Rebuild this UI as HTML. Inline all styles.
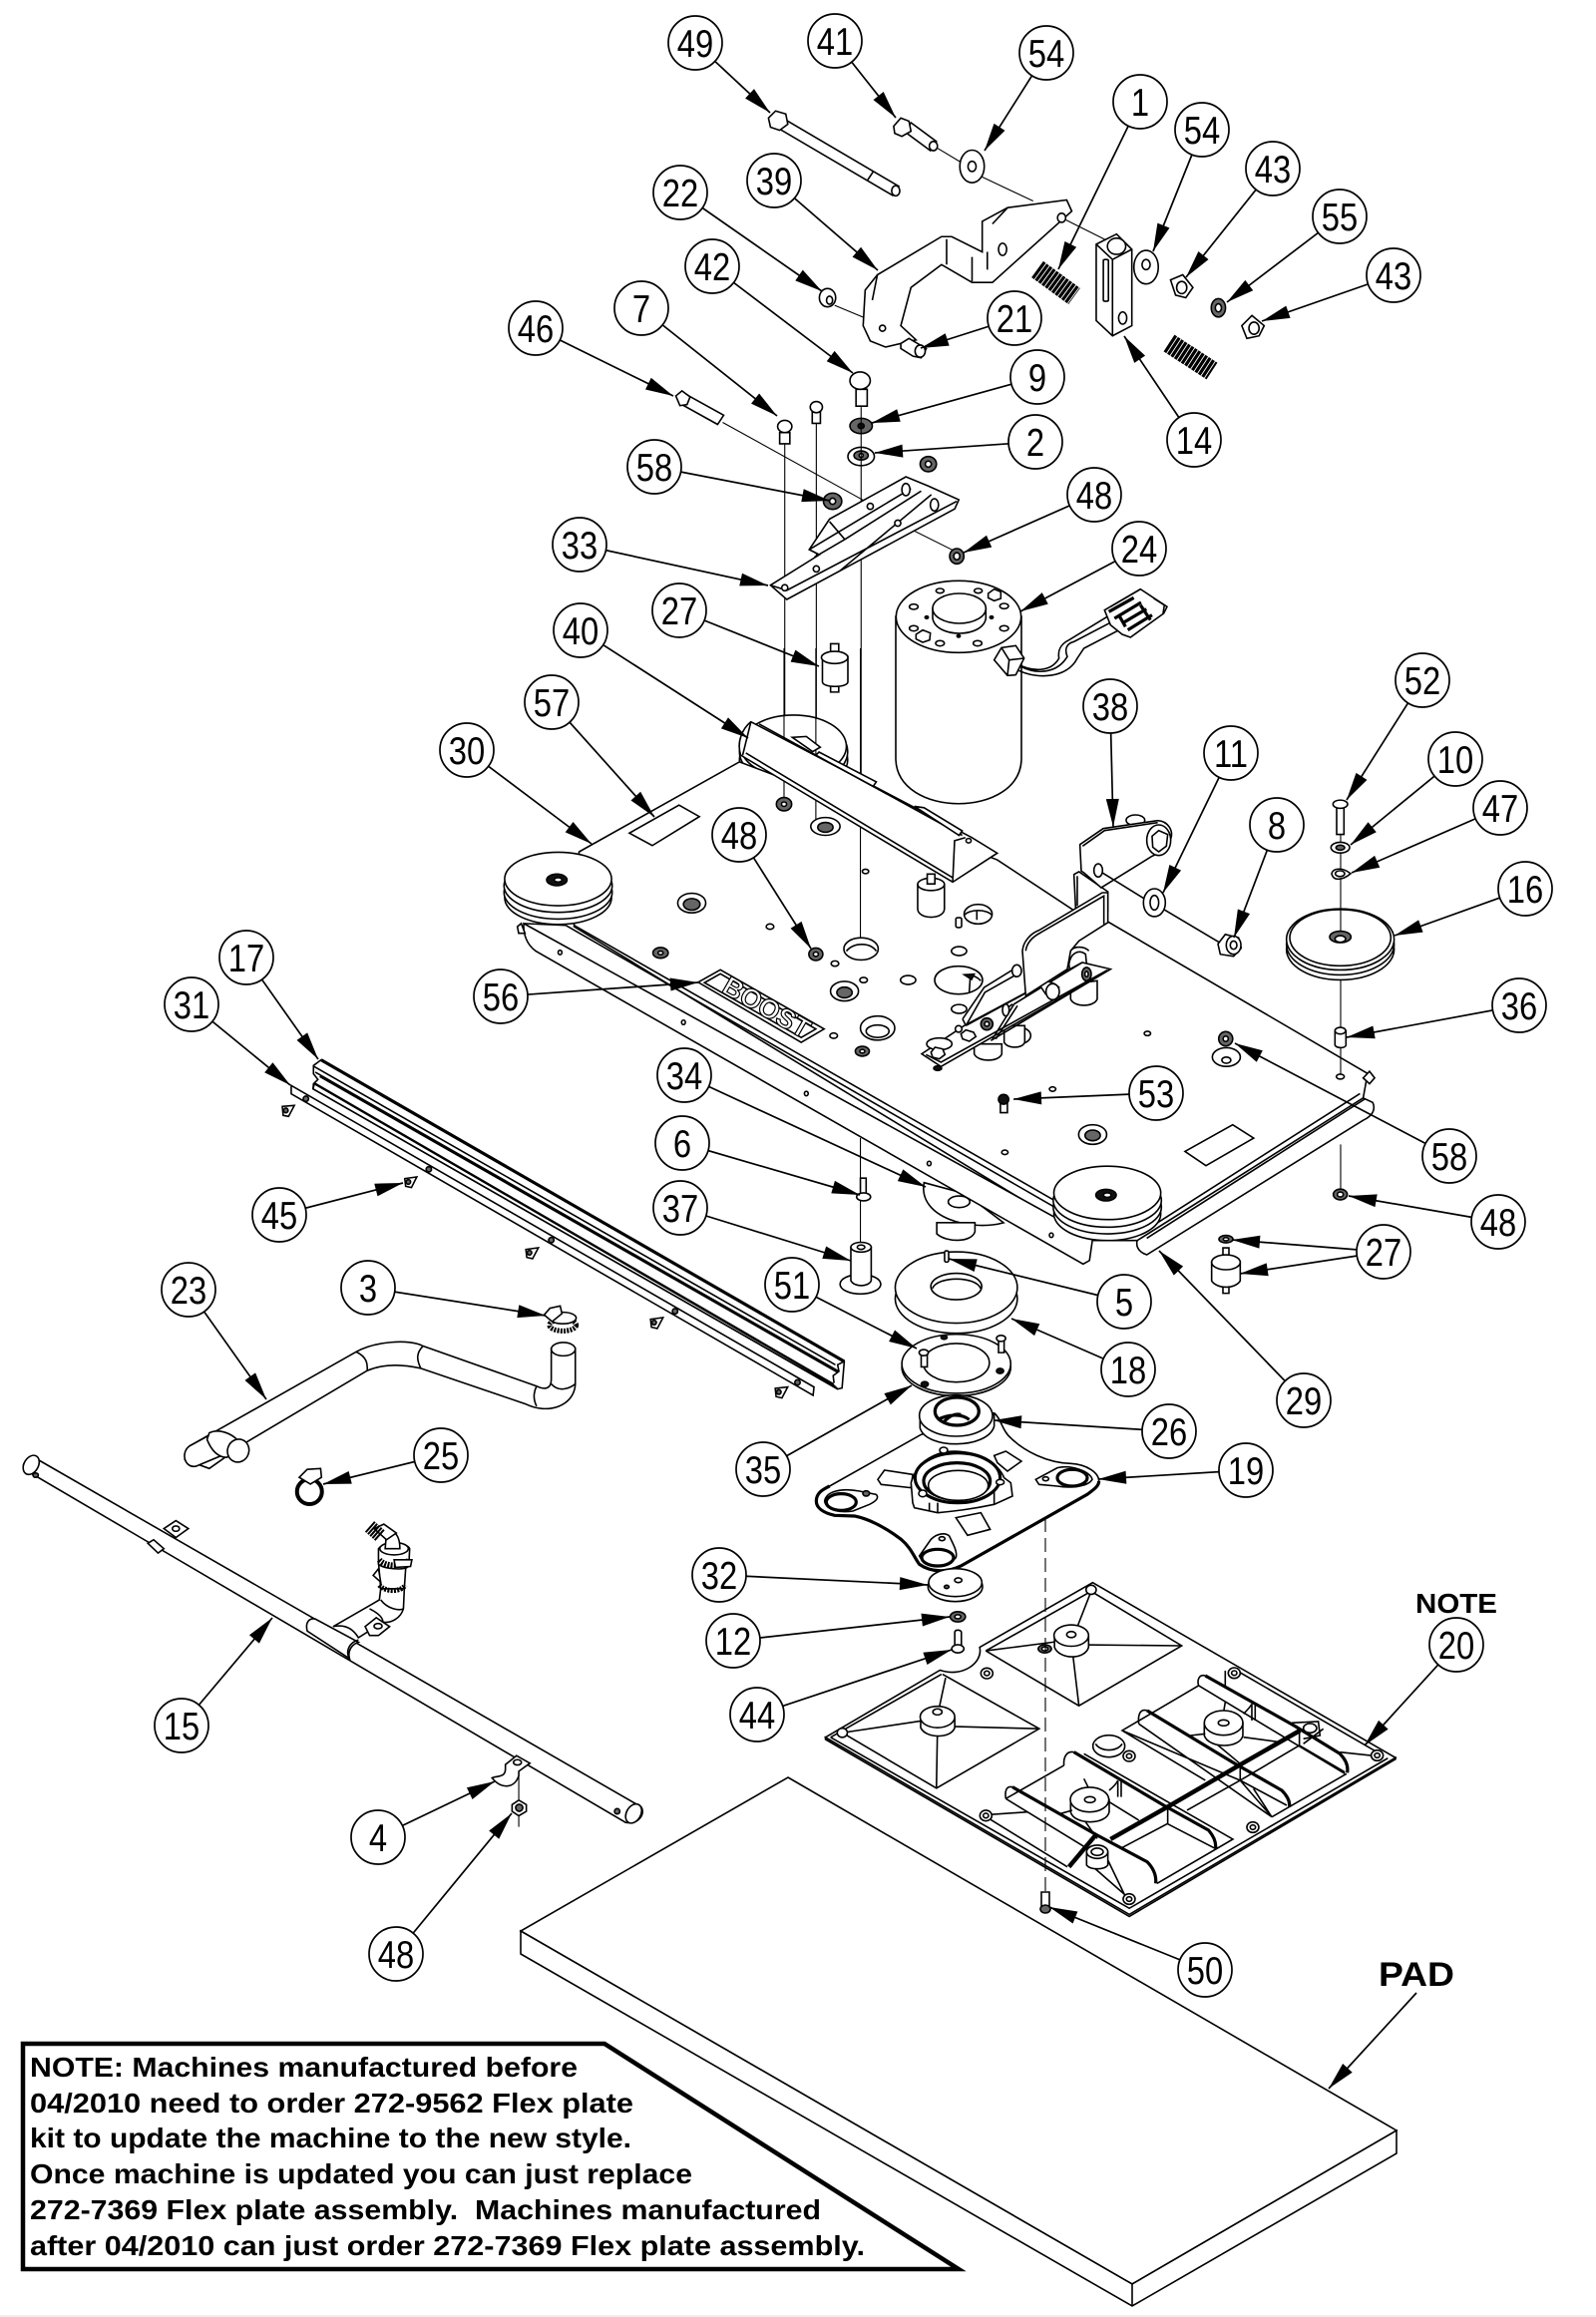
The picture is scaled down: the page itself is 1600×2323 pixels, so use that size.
<!DOCTYPE html>
<html><head><meta charset="utf-8"><title>Exploded parts diagram</title>
<style>
html,body{margin:0;padding:0;background:#fff}
svg{display:block}
svg *{vector-effect:non-scaling-stroke}
.p path,.p ellipse,.p line,.p polygon,.p rect{fill:#fff;stroke:#000;stroke-width:1.6}
.p .n{fill:none}
.p .d{fill:#111}
.p .g{fill:#666}
.p .t{stroke-width:3.2}
.p .h{stroke-width:4.5}
.p .f{stroke-width:1.1;fill:none}
.L line{stroke:#000;stroke-width:1.7;marker-end:url(#a)}
.B circle{fill:#fff;stroke:#000;stroke-width:1.7}
.B text{font-family:"Liberation Sans",sans-serif;font-size:39px;text-anchor:middle;fill:#000;transform:scaleX(.84)}
.N text{font-family:"Liberation Sans",sans-serif;font-weight:bold;font-size:28px;fill:#000}
</style></head><body>
<svg xmlns="http://www.w3.org/2000/svg" width="1600" height="2323" viewBox="0 0 1600 2323">
<defs><marker id="a" markerUnits="userSpaceOnUse" orient="auto" markerWidth="30" markerHeight="14" refX="28" refY="6.5" overflow="visible"><path d="M0 0L28 6.5L0 13z" fill="#000" stroke="none"/></marker></defs>
<rect width="1600" height="2323" fill="#fff"/>
<rect y="2321" width="1600" height="2" fill="#eee"/>

<!-- TOP HARDWARE -->
<g class="p" transform="scale(1.0204 .5102)">
<path d="M768 231L883 366L877 384L762 249Z"/><path class="n" d="M858 337L852 355"/><ellipse cx="880" cy="375" rx="4" ry="10"/>
<path d="M755 232L762 218L772 224L774 244L766 256L757 250Z"/>
<path d="M895 241L920 278L914 296L889 259Z"/><ellipse cx="917" cy="287" rx="4" ry="9"/>
<path d="M878 248L885 232L893 238L895 258L886 268L879 262Z"/>
<path class="n f" d="M920 290L945 320M962 345L1015 395M1045 430L1090 475"/>
<ellipse cx="955" cy="327" rx="12" ry="32"/><ellipse cx="955" cy="327" rx="4" ry="10"/>
<path class="n f" d="M820 600L850 625"/>
<path d="M850 570L862 540L925 465L935 465L965 495L965 435L990 408L1048 393L1053 415L975 555L955 555L925 520L895 565L885 640L900 668L870 682L855 670L848 640Z"/>
<path class="n" d="M930 470L930 520M955 505L955 553M970 495L970 530M990 408L975 440M862 540L857 590"/>
<ellipse cx="985" cy="490" rx="4" ry="12"/><ellipse cx="1043" cy="428" rx="4" ry="9"/><ellipse cx="867" cy="645" rx="3" ry="6"/>
<path d="M885 675L893 665L910 685L905 703L897 700L885 685Z"/><ellipse cx="904" cy="690" rx="5" ry="12"/>
<ellipse cx="813" cy="585" rx="8" ry="18"/><ellipse cx="815" cy="590" rx="3" ry="8"/>
<path d="M1077 480L1097 460L1112 490L1112 640L1093 660L1077 630Z"/>
<path class="n" d="M1077 480L1093 510L1093 660M1093 510L1112 490"/>
<ellipse cx="1097" cy="484" rx="9" ry="16"/>
<rect x="1084" y="510" width="5" height="82" rx="2"/>
<ellipse cx="1103" cy="625" rx="4" ry="12"/>
<ellipse cx="1126" cy="525" rx="12" ry="33"/><ellipse cx="1126" cy="520" rx="4" ry="10"/>
<path d="M1150 550L1162 540L1172 565L1165 585L1155 580Z"/><ellipse cx="1161" cy="565" rx="5" ry="12"/>
<ellipse class="g" cx="1197" cy="605" rx="7" ry="18"/><ellipse cx="1197" cy="605" rx="3" ry="8"/>
<path d="M1220 640L1230 620L1242 640L1237 660L1225 665Z"/><ellipse cx="1232" cy="645" rx="5" ry="12"/>
<path d="M841 765L841 798L852 798L852 765Z"/><ellipse cx="845" cy="748" rx="10" ry="17"/>
<ellipse class="g" cx="846" cy="837" rx="11" ry="15"/><ellipse class="d" cx="846" cy="837" rx="3" ry="5"/>
<ellipse cx="846" cy="897" rx="13" ry="18"/><ellipse class="g" cx="846" cy="895" rx="7" ry="9"/><ellipse cx="846" cy="895" rx="2" ry="4"/>
<ellipse class="g" cx="912" cy="912" rx="8" ry="15"/><ellipse cx="912" cy="912" rx="3" ry="6"/>
<path class="n f" d="M771 870L771 1568M802 832L802 1568M846 800L846 1568"/>
<path d="M766 850L766 872L776 872L776 850Z"/><ellipse cx="771" cy="838" rx="7" ry="12"/>
<path d="M798 810L798 832L806 832L806 810Z"/><ellipse cx="802" cy="800" rx="6" ry="11"/>
<path d="M675 776L711 816L705 834L669 794Z"/><path d="M664 778L670 768L678 780L675 795L668 797Z"/>
<path class="n f" d="M710 830L850 985M880 1025L940 1085"/>
<path d="M757 1150L805 1090L795 1080L815 1020L890 937L912 955L942 982L938 1000L850 1095L773 1178Z"/>
<path class="n" d="M815 1025L830 1060L800 1095M795 1080L895 960M825 1122L915 972M830 1060L905 965M757 1150L773 1160L940 985"/>
<ellipse cx="890" cy="962" rx="4" ry="12"/><ellipse cx="918" cy="992" rx="4" ry="12"/><ellipse cx="855" cy="995" rx="3" ry="6"/><ellipse cx="882" cy="1028" rx="3" ry="6"/><ellipse cx="802" cy="1118" rx="3" ry="6"/><ellipse cx="771" cy="1155" rx="3" ry="6"/>
<ellipse class="g" cx="818" cy="985" rx="9" ry="16"/><ellipse cx="818" cy="985" rx="3" ry="6"/>
<ellipse class="g" cx="940" cy="1093" rx="7" ry="15"/><ellipse cx="940" cy="1093" rx="3" ry="7"/>
<rect x="816" y="1265" width="8" height="20"/><rect x="816" y="1340" width="8" height="20"/>
<path d="M808 1290L833 1290L833 1340C833 1352 808 1352 808 1340Z"/><ellipse cx="820" cy="1292" rx="13" ry="12"/>
</g>

<!-- MOTOR -->
<path d="M898 618L898 760C898 821 1024 821 1024 760L1024 618Z" fill="#fff" stroke="#000" stroke-width="1.6"/>
<g class="p" transform="translate(880 560) scale(.3333)">
<ellipse cx="243" cy="175" rx="188" ry="108"/>
<path d="M165 150L165 180C175 240 315 240 325 180L325 150Z"/><ellipse cx="245" cy="150" rx="80" ry="45"/>
<ellipse cx="187" cy="97" rx="12" ry="7"/><ellipse cx="302" cy="97" rx="12" ry="7"/><ellipse cx="108" cy="145" rx="13" ry="8"/><ellipse cx="380" cy="143" rx="13" ry="8"/><ellipse cx="108" cy="210" rx="13" ry="8"/><ellipse cx="380" cy="210" rx="13" ry="8"/><ellipse cx="187" cy="255" rx="13" ry="8"/><ellipse cx="300" cy="255" rx="13" ry="8"/>
<ellipse class="d" cx="147" cy="177" rx="5" ry="4"/><ellipse class="d" cx="342" cy="177" rx="5" ry="4"/><ellipse class="d" cx="243" cy="233" rx="5" ry="4"/>
<path d="M332 105L350 92L370 100L370 120L350 127L332 118Z"/><path d="M115 228L135 215L158 224L156 245L135 252L115 242Z"/>
<path class="n" d="M415 315C460 340 520 345 545 300C540 270 555 255 575 245L690 175M420 335C480 365 570 360 600 300L620 270L745 205M430 325C480 350 540 345 570 295C560 270 570 255 590 250L705 190"/>
<path d="M350 305L372 268L415 262L440 300L415 350L390 352Z"/><path class="n" d="M372 268L395 305L390 352M395 305L440 300"/>
<path d="M682 155L790 92L870 145L860 165L760 237L735 228L700 200Z"/>
<path class="n" d="M830 120L862 140L858 165M790 92L700 145"/>
<path class="n t" d="M695 160L770 118M712 180L792 132M735 195L808 152M752 215L825 170M725 170L745 205M790 140L820 185"/>
</g>

<!-- DECK -->
<g class="p" transform="translate(400 650) scale(.638 .4464)">
<ellipse cx="620" cy="250" rx="85" ry="72"/><ellipse cx="620" cy="232" rx="85" ry="75"/><ellipse cx="620" cy="220" rx="83" ry="70"/>
<path d="M825 1200C815 1280 900 1310 950 1290L890 1225Z"/>
<path d="M845 1290L845 1315C860 1335 900 1335 905 1310L905 1290Z"/><ellipse cx="880" cy="1243" rx="17" ry="13"/>
<path d="M283 457L535 255L940 475L1062 590L1115 615L1522 955L1515 1010L1165 1330L1085 1330L275 625Z"/>
<path class="n f" d="M605 0L605 350M655 0L655 400M725 0L725 660M725 1100L725 1190M725 1240L725 1340"/>
<path d="M553 165L900 425L940 460L870 525L537 240C530 210 540 180 553 165Z"/>
<path class="n" d="M566 170L885 420M553 165L540 240M890 425L873 432L870 525M545 235L870 515"/>
<path d="M618 200L640 198L662 222L650 232Z"/><path d="M660 233L750 300L745 310L655 240Z"/><path d="M810 355L825 358L885 410L880 420Z"/>
<ellipse cx="895" cy="432" rx="4" ry="5"/>
<ellipse class="g" cx="605" cy="350" rx="12" ry="15"/><ellipse cx="605" cy="350" rx="4" ry="5"/>
<ellipse cx="670" cy="400" rx="23" ry="20"/><ellipse class="g" cx="670" cy="402" rx="12" ry="11"/>
<ellipse cx="733" cy="501" rx="5" ry="5"/>
<path d="M815 530L815 585C815 610 857 610 857 585L857 530Z"/><ellipse cx="836" cy="530" rx="21" ry="14"/><rect x="830" y="507" width="12" height="22"/>
<ellipse cx="460" cy="572" rx="22" ry="22"/><ellipse class="g" cx="460" cy="575" rx="13" ry="13"/>
<ellipse cx="583" cy="625" rx="6" ry="6"/>
<ellipse class="g" cx="411" cy="684" rx="12" ry="12"/><ellipse cx="411" cy="684" rx="4" ry="4"/>
<ellipse class="g" cx="655" cy="687" rx="11" ry="14"/><ellipse cx="655" cy="687" rx="4" ry="5"/>
<ellipse cx="685" cy="708" rx="6" ry="6"/>
<ellipse cx="726" cy="675" rx="27" ry="25"/><path class="n" d="M703 680C715 660 740 660 750 680"/>
<ellipse cx="730" cy="745" rx="6" ry="6"/><ellipse cx="800" cy="745" rx="12" ry="10"/>
<ellipse cx="700" cy="770" rx="22" ry="22"/><ellipse class="g" cx="700" cy="773" rx="12" ry="12"/>
<ellipse cx="880" cy="680" rx="12" ry="10"/><rect x="875" y="605" width="9" height="22" rx="3"/>
<ellipse cx="910" cy="597" rx="22" ry="22"/><path class="n" d="M888 600C895 585 925 585 932 600M908 590L908 610"/>
<ellipse cx="880" cy="810" rx="12" ry="10"/>
<ellipse cx="752" cy="853" rx="27" ry="27"/><ellipse class="n" cx="752" cy="860" rx="18" ry="14"/>
<ellipse cx="683" cy="870" rx="6" ry="6"/>
<ellipse class="g" cx="728" cy="905" rx="11" ry="11"/><ellipse cx="728" cy="905" rx="4" ry="4"/>
<ellipse cx="1176" cy="865" rx="5" ry="5"/><ellipse cx="1027" cy="990" rx="5" ry="5"/><ellipse cx="952" cy="1132" rx="5" ry="5"/>
<ellipse cx="1090" cy="1092" rx="22" ry="22"/><ellipse class="g" cx="1090" cy="1094" rx="12" ry="12"/>
<ellipse cx="1300" cy="918" rx="22" ry="21"/><ellipse cx="1300" cy="925" rx="7" ry="7"/>
<ellipse class="g" cx="1299" cy="877" rx="11" ry="16"/><ellipse cx="1299" cy="877" rx="4" ry="6"/>
<rect x="945" y="1010" width="11" height="33"/><ellipse class="d" cx="950" cy="1013" rx="8" ry="11"/>
<path d="M1235 1130L1310 1070L1343 1100L1268 1162Z"/><path d="M362 415L440 352L472 378L398 443Z"/>
<path d="M470 750L505 722L668 855L632 885Z"/><path class="n" d="M480 751L505 731L655 855L632 874Z"/>
<path d="M1515 1010L1530 1020C1535 1035 1530 1050 1515 1060L1175 1362C1160 1355 1158 1340 1160 1330Z"/>
<path class="n" d="M1510 1000L1170 1310M1518 1012L1175 1325"/>
<path d="M1525 950L1533 965L1525 978L1515 965Z"/>
<path d="M196 618L1090 1325L1085 1375L1075 1383L215 680C200 665 195 640 196 618Z"/>
<path class="n" d="M275 622L1030 1240M262 622L1030 1255M196 618L262 622"/>
<ellipse cx="253" cy="683" rx="3" ry="5"/><ellipse cx="447" cy="840" rx="3" ry="5"/><ellipse cx="640" cy="1000" rx="3" ry="5"/><ellipse cx="833" cy="1157" rx="3" ry="5"/><ellipse cx="1025" cy="1318" rx="3" ry="5"/>
<path d="M186 625L192 618L198 640L188 640Z"/>
<ellipse cx="250" cy="560" rx="84" ry="60"/><ellipse cx="250" cy="548" rx="85" ry="60"/><ellipse cx="250" cy="533" rx="85" ry="60"/><ellipse cx="250" cy="518" rx="84" ry="60"/>
<ellipse class="d" cx="248" cy="520" rx="16" ry="13"/><ellipse cx="250" cy="520" rx="6" ry="5"/>
<ellipse cx="1113" cy="1270" rx="84" ry="60"/><ellipse cx="1113" cy="1255" rx="85" ry="60"/><ellipse cx="1113" cy="1240" rx="85" ry="60"/><ellipse cx="1113" cy="1223" rx="84" ry="60"/>
<ellipse class="d" cx="1111" cy="1228" rx="16" ry="13"/><ellipse cx="1113" cy="1228" rx="6" ry="5"/>
<rect x="725" y="1190" width="9" height="38"/><ellipse cx="730" cy="1232" rx="11" ry="9"/>
<ellipse cx="725" cy="1428" rx="32" ry="22"/>
<path d="M710 1345L710 1420C715 1435 738 1435 742 1420L742 1345Z"/><ellipse cx="726" cy="1345" rx="16" ry="11"/><ellipse cx="726" cy="1345" rx="6" ry="5"/>
</g>

<!-- BRACKET 38 ASSEMBLY -->
<g class="p" transform="translate(900 780) scale(.3333)">
<ellipse cx="183" cy="608" rx="72" ry="42"/><path class="n" d="M200 592C225 590 240 600 250 610M218 600L215 645"/><path class="d" d="M200 592L230 590L222 606Z"/>
<path d="M230 800L230 830C240 855 305 855 313 830L313 800Z"/>
<ellipse cx="365" cy="775" rx="35" ry="25"/><path d="M320 745L320 795C330 815 375 815 382 795L382 745Z"/>
<path d="M520 620L520 665C530 690 590 690 600 665L600 610Z"/>
<path d="M515 560C520 525 545 515 565 530L570 580L520 600Z"/>
<path d="M72 830L200 745L555 555L640 575L130 868Z"/>
<path class="n" d="M85 832L130 855L630 578M280 790L640 575"/>
<ellipse class="d" cx="120" cy="873" rx="12" ry="7"/>
<ellipse cx="125" cy="800" rx="38" ry="18"/>
<path d="M100 825L112 810L135 815L142 832L125 845L105 840Z"/>
<path d="M190 770L205 758L228 765L235 778L215 792L195 785Z"/>
<ellipse cx="183" cy="755" rx="10" ry="10"/>
<path class="n" d="M195 725L260 630L360 568M205 745L262 645L368 585M195 725L205 745M205 745L380 650"/>
<ellipse cx="358" cy="580" rx="14" ry="18"/>
<ellipse class="g" cx="268" cy="740" rx="18" ry="18"/><ellipse cx="268" cy="740" rx="7" ry="7"/>
<path class="n" d="M285 785L350 680L555 555M295 785L360 685M320 700L345 680"/>
<ellipse cx="325" cy="698" rx="10" ry="18"/>
<path d="M425 620C430 605 465 610 485 630L470 665L445 650Z"/><ellipse cx="466" cy="643" rx="20" ry="24"/>
<ellipse class="g" cx="568" cy="590" rx="14" ry="20"/><ellipse cx="568" cy="590" rx="5" ry="8"/>
<!-- bracket -->
<path d="M530 290L545 282L632 342L632 400L535 390Z"/>
<path class="n" d="M540 295L540 385"/>
<path d="M375 520C378 490 400 468 425 458L615 345L632 345L632 435L545 490L520 520L510 575L385 655Z"/>
<path class="n" d="M385 520C388 495 405 478 430 465L620 355L620 440M520 520C530 505 560 505 575 520"/>
<ellipse cx="715" cy="127" rx="28" ry="16"/>
<path d="M548 200L618 152L782 128C815 130 828 160 822 180C815 205 790 225 765 235L612 330L560 285L552 280Z"/>
<path class="n" d="M556 205L622 158L782 134"/>
<ellipse cx="603" cy="278" rx="13" ry="20"/>
<ellipse cx="785" cy="187" rx="36" ry="46"/>
<path d="M765 175L785 158L812 170L808 205L785 222L767 208Z"/>
<path class="n" d="M615 285L745 365M800 395L1010 520"/>
<ellipse cx="772" cy="375" rx="33" ry="42"/><ellipse cx="772" cy="375" rx="13" ry="22"/>
</g>

<!-- BOOST -->
<text transform="translate(764 1018) rotate(30)" font-family="Liberation Sans,sans-serif" font-weight="bold" font-size="27" text-anchor="middle" fill="#fff" stroke="#000" stroke-width="1.2" textLength="96" lengthAdjust="spacingAndGlyphs">BOOST</text>

<!-- SPRINGS -->
<g fill="none" stroke="#000">
<path d="M1040 270L1077 297" stroke-width="20" stroke-dasharray="3.2 .9"/>
<path d="M1172 344L1215 372" stroke-width="20" stroke-dasharray="3.2 .9"/>
</g>

<!-- RIGHT STACK -->
<g class="p" transform="translate(1200 650) scale(.3333 .4145)">
<path class="n f" d="M432 450L432 700M432 800L432 920M432 965L432 1035M432 1200L432 1310"/>
<path d="M420 380L420 450L442 450L442 380Z"/><ellipse cx="431" cy="377" rx="22" ry="10"/>
<ellipse cx="431" cy="482" rx="28" ry="13"/><ellipse class="g" cx="431" cy="482" rx="13" ry="6"/>
<path d="M405 545C410 530 440 530 462 545C440 560 410 565 405 545Z"/><ellipse cx="430" cy="545" rx="14" ry="7"/>
<ellipse cx="431" cy="728" rx="162" ry="74"/><ellipse cx="431" cy="716" rx="162" ry="74"/><ellipse cx="431" cy="704" rx="162" ry="74"/><ellipse cx="431" cy="700" rx="152" ry="68"/>
<path class="n f" d="M432 628L432 690"/>
<ellipse class="g" cx="431" cy="698" rx="32" ry="14"/><ellipse cx="431" cy="703" rx="16" ry="8"/>
<path d="M415 925L415 960C420 968 445 968 448 960L448 925Z"/><ellipse cx="431" cy="925" rx="16" ry="8"/>
<ellipse cx="431" cy="1036" rx="12" ry="6"/>
<path d="M63 715L85 692L125 700L133 725L110 745L70 740Z"/><ellipse cx="110" cy="718" rx="22" ry="22"/><ellipse cx="110" cy="718" rx="10" ry="10"/>
<ellipse class="g" cx="431" cy="1321" rx="21" ry="13"/><ellipse cx="431" cy="1321" rx="9" ry="6"/>
<ellipse class="g" cx="87" cy="1429" rx="21" ry="9"/><ellipse cx="87" cy="1429" rx="8" ry="4"/>
<rect x="78" y="1450" width="18" height="25"/><rect x="78" y="1535" width="18" height="25"/>
<path d="M44 1485L44 1530C60 1550 115 1550 130 1530L130 1485Z"/><ellipse cx="87" cy="1485" rx="43" ry="18"/>
</g>

<!-- RING STACK + FLEX PLATE LEFT -->
<g class="p" transform="translate(700 1200) scale(.5102)">
<ellipse cx="507" cy="200" rx="120" ry="68"/><ellipse cx="507" cy="178" rx="120" ry="70"/>
<ellipse cx="507" cy="176" rx="50" ry="26"/><path class="n" d="M460 180C470 155 545 155 555 180"/>
<rect x="484" y="106" width="8" height="22" rx="3"/>
<ellipse cx="507" cy="335" rx="107" ry="56"/><ellipse cx="507" cy="328" rx="107" ry="58"/>
<ellipse cx="507" cy="326" rx="65" ry="38"/>
<ellipse class="d" cx="483" cy="276" rx="6" ry="4"/><ellipse class="d" cx="593" cy="342" rx="7" ry="5"/><ellipse class="d" cx="445" cy="368" rx="7" ry="5"/>
<rect x="438" y="310" width="12" height="24"/><ellipse cx="443" cy="306" rx="9" ry="6"/>
<rect x="590" y="282" width="11" height="24"/><ellipse cx="595" cy="278" rx="9" ry="6"/>
<!-- flex plate base -->
<path d="M250 1066L847 1414L1370 1105L1370 1102L847 1405L250 1062Z"/>
<path d="M250 1062L475 930C520 945 560 915 553 885L775 758L1370 1102L847 1410Z"/>
<path class="n" d="M260 1062L478 938M565 892L772 775L950 882L748 1000L565 892M480 938L670 1045L468 1162L283 1053M1355 1103L847 1398L260 1062"/>
<path class="n" d="M470 1025L283 1053M470 1040L670 1045M470 1045L468 1160M470 1020L486 945M735 870L772 775M735 880L950 882M735 890L748 1000M735 870L565 892"/>
<path d="M700 865L700 885C710 910 760 910 767 885L767 865Z"/><ellipse cx="733" cy="862" rx="34" ry="21"/><ellipse cx="733" cy="860" rx="9" ry="6"/>
<path d="M437 1025L437 1043C447 1065 497 1065 504 1043L504 1025Z"/><ellipse cx="470" cy="1022" rx="34" ry="21"/><ellipse cx="470" cy="1012" rx="9" ry="6"/>
<ellipse class="g" cx="681" cy="888" rx="13" ry="8"/><ellipse cx="681" cy="888" rx="6" ry="4"/>
<ellipse cx="772" cy="772" rx="10" ry="9"/><ellipse cx="283" cy="1053" rx="10" ry="9"/>
</g>

<!-- FLEX PLATE RIGHT -->
<g class="p" transform="translate(960 1640) scale(.3333)">
<path class="n" d="M725 150L495 285L745 435M320 390L145 490M70 535L330 695M145 490L390 640M380 355L828 612L600 745M945 545L1170 415M495 285L850 435M545 265L945 545M725 150L1165 415M805 105L805 150M840 105L1262 350"/>
<path class="n" d="M850 435L690 525M1028 330L850 435M632 565L490 640M1028 290L1028 330M850 390L850 435M632 520L632 565M630 565L775 640M1028 330L1165 410M850 435L990 510M850 435L945 545M890 460L945 545M760 310L850 385M385 560L420 610M1040 325L1100 280M1150 350L1262 362M70 540L210 530M440 650L505 785M390 680L510 785M380 430L395 460M440 490L545 555M860 305L970 320M805 200L800 230"/>
<!-- ribs -->
<path class="t n" d="M745 120L1015 272L1150 355C1170 375 1175 395 1172 412M570 225L835 385L975 465C995 485 1000 500 998 515M350 350L620 510L755 585C772 605 778 622 776 640M165 455L420 600L570 680C590 700 598 722 596 745"/>
<path class="n" d="M745 120C725 115 720 135 725 150M570 225C548 218 542 240 545 265M350 350C325 345 318 370 320 390M165 455C145 450 142 470 145 490"/>
<path class="h n" d="M1030 285L855 385L640 510L460 612M335 695L415 600"/>
<!-- hubs -->
<path d="M742 262L742 300C755 340 850 340 858 300L858 262Z"/><ellipse cx="800" cy="262" rx="58" ry="37"/><ellipse cx="800" cy="262" rx="16" ry="9"/>
<path class="n" d="M860 235C870 225 880 215 885 205M885 205L885 255M895 205L895 255M700 300L745 295"/>
<path d="M340 493L340 530C350 570 448 570 456 530L456 493Z"/><ellipse cx="397" cy="493" rx="58" ry="37"/><ellipse cx="398" cy="493" rx="16" ry="9"/>
<path class="n" d="M456 465C468 455 478 445 482 435M482 435L482 485M492 435L492 485M310 535L345 525"/>
<path d="M388 650L388 690C400 705 440 705 452 690L452 650Z"/><ellipse cx="420" cy="650" rx="32" ry="20"/><ellipse cx="420" cy="650" rx="18" ry="11"/>
<ellipse cx="455" cy="332" rx="48" ry="33"/><path class="n" d="M415 325C430 350 480 350 495 325"/>
<path class="n" d="M1005 262L1085 258L1090 300L1040 310"/><ellipse cx="1060" cy="278" rx="20" ry="14"/>
<!-- nuts -->
<ellipse cx="88" cy="113" rx="18" ry="16"/><ellipse class="n" cx="88" cy="113" rx="8" ry="7"/>
<ellipse cx="832" cy="112" rx="18" ry="16"/><ellipse class="n" cx="832" cy="112" rx="8" ry="7"/>
<ellipse cx="1262" cy="360" rx="18" ry="16"/><ellipse class="n" cx="1262" cy="360" rx="8" ry="7"/>
<ellipse cx="516" cy="792" rx="18" ry="16"/><ellipse class="n" cx="516" cy="792" rx="8" ry="7"/>
<ellipse cx="85" cy="541" rx="18" ry="16"/><ellipse class="n" cx="85" cy="541" rx="8" ry="7"/>
<ellipse cx="888" cy="576" rx="18" ry="16"/><ellipse class="n" cx="888" cy="576" rx="8" ry="7"/>
<ellipse cx="516" cy="362" rx="18" ry="16"/><ellipse class="n" cx="516" cy="362" rx="8" ry="7"/>
</g>
<!-- dashed line and bolt 50 -->
<path d="M1048 1522L1048 1900" fill="none" stroke="#000" stroke-width="1.1" stroke-dasharray="14 6"/>
<g class="p"><path d="M1044 1897L1052 1897L1052 1912L1044 1912Z"/><ellipse cx="1048" cy="1914" rx="5" ry="4" class="g"/></g>

<!-- PLATE 19 -->
<g class="p" transform="translate(800 1380) scale(.3333)">
<path d="M55 375C55 350 75 340 95 330L370 175L590 110C610 125 615 165 640 185C680 225 750 260 820 262C870 265 905 290 905 315C905 330 890 340 870 355L490 570C450 590 400 590 365 565C350 545 340 515 310 490C270 460 220 430 170 420L110 418C75 410 55 395 55 375Z"/>
<path class="n t" d="M55 375C55 395 75 410 110 418L170 420C220 430 270 460 310 490C340 515 350 545 365 565C400 590 450 590 490 570L870 355C890 340 905 330 905 315M55 375C55 350 75 340 95 330"/>
<path d="M80 375C85 345 130 335 185 345L235 355C245 365 235 375 215 385L165 405C130 410 85 405 80 375Z"/><ellipse class="t" cx="130" cy="378" rx="45" ry="25"/><ellipse class="g" cx="205" cy="352" rx="10" ry="8"/>
<path d="M715 310L780 275C820 265 880 285 885 310C870 335 810 335 780 330L725 325Z"/><ellipse class="t" cx="825" cy="305" rx="45" ry="25"/><ellipse cx="745" cy="308" rx="9" ry="6"/>
<path d="M365 540L400 490C420 470 445 470 455 480C470 510 480 530 475 545C450 575 380 575 365 540Z"/><ellipse class="t" cx="420" cy="545" rx="48" ry="25"/><ellipse cx="433" cy="488" rx="9" ry="6"/>
<path d="M240 310L260 282L345 295L340 335L250 325Z"/><path d="M590 238L625 225L672 255L630 285L600 260Z"/><path d="M475 425L550 410L578 460L510 478Z"/>
<path d="M345 380L340 320C360 250 420 225 470 225C530 225 600 255 620 305L640 320L645 360L590 385C520 400 470 405 420 410L350 395Z"/>
<path class="n" d="M395 380L395 405M420 380L420 408M590 345L590 385"/>
<ellipse class="t" cx="480" cy="305" rx="128" ry="75"/><ellipse class="t" cx="478" cy="315" rx="100" ry="55"/><ellipse cx="482" cy="328" rx="90" ry="45"/>
<ellipse cx="375" cy="352" rx="12" ry="10"/><ellipse cx="608" cy="318" rx="12" ry="8"/><ellipse cx="438" cy="222" rx="12" ry="9"/>
<path d="M367 115L367 155C385 220 570 220 590 150L590 115Z"/>
<ellipse cx="475" cy="118" rx="110" ry="62"/><ellipse class="t" cx="478" cy="105" rx="66" ry="42"/>
<path class="n t" d="M420 130C450 115 490 110 515 130M435 140C455 120 470 110 490 115"/>
<ellipse cx="473" cy="632" rx="82" ry="45"/><ellipse cx="473" cy="620" rx="80" ry="42"/>
<ellipse cx="482" cy="613" rx="11" ry="7"/><ellipse class="g" cx="447" cy="633" rx="7" ry="5"/>
</g>
<g class="p" transform="translate(700 1200) scale(.5102)">
<ellipse class="g" cx="510" cy="825" rx="15" ry="10"/><ellipse cx="510" cy="825" rx="6" ry="4"/>
<path d="M504 855L504 885L517 885L517 855C515 850 505 850 504 855Z"/><ellipse cx="510" cy="888" rx="12" ry="8"/>
</g>

<!-- HOSES -->
<g class="p" transform="translate(0 1200) scale(.4464)">
<path d="M425 560L800 348C840 325 920 318 950 335L1205 425C1225 435 1238 430 1238 410L1238 340L1292 340L1292 420C1290 470 1230 490 1180 465L945 385C900 375 860 375 825 390L555 550L470 610L415 590Z"/>
<path class="n" d="M800 348C825 360 825 375 825 390M950 335C935 350 935 365 945 385M1205 425C1195 445 1200 460 1205 470M1238 420C1255 440 1280 430 1292 420"/>
<ellipse cx="1265" cy="342" rx="27" ry="15"/>
<path d="M425 560C405 575 415 610 440 605L500 580L480 530Z"/><path d="M470 530C490 520 520 530 535 548L510 585C490 585 475 570 465 545Z"/>
<ellipse cx="535" cy="570" rx="24" ry="26" transform="rotate(20 535 570)"/>
<ellipse class="n" cx="1264" cy="288" rx="30" ry="13" style="stroke-width:5;stroke-dasharray:2 1.2"/>
<ellipse cx="1264" cy="272" rx="30" ry="13"/>
<path d="M1222 265L1235 250L1258 245L1262 262L1240 280Z"/>
<ellipse class="n" cx="695" cy="662" rx="28" ry="28" style="stroke-width:4"/>
<path d="M672 630L690 612L720 610L722 630L697 645Z"/>
<path d="M85 590L1440 1370C1450 1385 1435 1410 1405 1405L55 612C45 600 65 580 85 590Z"/>
<ellipse cx="70" cy="602" rx="16" ry="23" transform="rotate(30 70 602)"/><ellipse class="g" cx="80" cy="625" rx="6" ry="5"/>
<ellipse cx="1423" cy="1385" rx="16" ry="23" transform="rotate(30 1423 1385)"/><ellipse class="g" cx="1386" cy="1380" rx="6" ry="6"/>
<path d="M690 975C685 955 695 945 708 948L805 1000C790 1005 780 1020 785 1037Z"/>
<path class="n" d="M785 1037C775 1020 785 1000 805 995"/>
<path d="M748 965L835 915L852 905L855 880L908 880L906 925C900 945 880 958 860 955L805 990C790 965 770 960 748 965Z"/>
<path class="n" d="M830 925C850 935 860 945 860 955M855 905C870 925 895 930 906 925"/>
<path d="M820 965L845 945L875 965L850 985L830 985Z"/><ellipse cx="849" cy="964" rx="9" ry="6"/>
<path d="M368 745L395 727L423 745L395 765Z"/><ellipse cx="395" cy="745" rx="8" ry="6"/>
<path d="M332 778L345 770L368 790L355 800Z"/>
<path d="M850 820L855 880L908 880L912 820Z"/>
<path class="n" d="M852 872C865 888 900 888 910 872" style="stroke-width:5;stroke-dasharray:2 1.2"/>
<path d="M838 850L850 835L855 865Z"/>
<path d="M850 790C860 775 915 775 920 790L918 830C905 840 860 835 850 825Z"/>
<path class="n" d="M852 815C865 832 905 832 918 815" style="stroke-width:6;stroke-dasharray:2 1.2"/>
<ellipse cx="885" cy="790" rx="32" ry="14"/>
<path d="M885 815L925 815L922 830L888 832Z"/>
<path d="M865 790L868 755C880 745 898 755 898 790Z"/><path d="M868 770L840 745L862 735L890 755Z"/>
<path class="n" d="M830 740L855 762" style="stroke-width:14;stroke-dasharray:2 1"/>
<path d="M1135 1275L1160 1255L1190 1272L1165 1290L1165 1300C1155 1330 1125 1330 1105 1305C1115 1300 1135 1305 1135 1285Z"/><ellipse cx="1162" cy="1270" rx="9" ry="6"/>
<path class="n f" d="M1165 1300L1165 1355M1165 1388L1165 1415"/>
<path d="M1150 1365L1165 1355L1182 1365L1182 1380L1165 1390L1150 1380Z"/><ellipse class="g" cx="1166" cy="1372" rx="8" ry="8"/>
</g>

<!-- RAIL -->
<g class="p" transform="translate(150 920) scale(.4464 .3333)">
<path d="M385 428L1560 1335L1555 1415L1545 1418L367 515L368 500L378 487L368 470L368 445Z"/>
<path class="n t" d="M385 428L1560 1335"/>
<path class="n" d="M368 447L1540 1345M372 465L1548 1365M382 478L1545 1368"/>
<path class="n t" d="M370 500L1535 1405"/>
<path class="n" d="M1560 1335L1545 1345L1548 1365L1535 1378L1537 1400"/>
<path d="M318 505L1492 1412L1490 1437L318 530Z"/>
<path d="M367 515L1545 1418L1535 1405L370 500Z"/>
<ellipse class="g" cx="351" cy="545" rx="6" ry="8"/><ellipse class="g" cx="627" cy="757" rx="6" ry="8"/><ellipse class="g" cx="902" cy="970" rx="6" ry="8"/><ellipse class="g" cx="1180" cy="1184" rx="6" ry="8"/><ellipse class="g" cx="1455" cy="1398" rx="6" ry="8"/>
<path d="M298 568L325 565L312 598L300 595Z"/><ellipse class="g" cx="306" cy="580" rx="5" ry="7"/>
<path d="M573 785L600 780L588 812L575 808Z"/><ellipse class="g" cx="581" cy="795" rx="5" ry="7"/>
<path d="M845 998L873 993L860 1026L847 1022Z"/><ellipse class="g" cx="853" cy="1008" rx="5" ry="7"/>
<path d="M1125 1208L1153 1203L1140 1236L1127 1232Z"/><ellipse class="g" cx="1133" cy="1218" rx="5" ry="7"/>
<path d="M1405 1416L1433 1412L1420 1445L1407 1441Z"/><ellipse class="g" cx="1413" cy="1427" rx="5" ry="7"/>
</g>

<!-- PAD -->
<g class="p">
<path d="M790 1782L1400 2136L1135 2290L522 1936Z"/>
<path d="M522 1936L522 1959L1135 2312L1400 2159L1400 2136L1135 2290Z"/>
<path class="n" d="M1135 2290L1135 2312"/>
</g>

<!-- LEADERS -->
<g class="L">
<line x1="697" y1="43" x2="772" y2="113"/><line x1="837" y1="41" x2="898" y2="118"/><line x1="1049" y1="53" x2="987" y2="151"/>
<line x1="1143" y1="102" x2="1061" y2="270"/><line x1="1205" y1="130" x2="1156" y2="252"/><line x1="1276" y1="169" x2="1189" y2="278"/>
<line x1="1343" y1="217" x2="1230" y2="303"/><line x1="1397" y1="276" x2="1265" y2="322"/><line x1="682" y1="193" x2="824" y2="292"/>
<line x1="776" y1="181" x2="880" y2="271"/><line x1="714" y1="267" x2="855" y2="374"/><line x1="643" y1="309" x2="779" y2="417"/>
<line x1="537" y1="329" x2="675" y2="397"/><line x1="1017" y1="319" x2="923" y2="349"/><line x1="1040" y1="378" x2="874" y2="424"/>
<line x1="1038" y1="443" x2="877" y2="454"/><line x1="1197" y1="441" x2="1127" y2="337"/><line x1="656" y1="468" x2="832" y2="502"/>
<line x1="1097" y1="496" x2="966" y2="554"/><line x1="581" y1="546" x2="770" y2="587"/><line x1="1142" y1="550" x2="1023" y2="613"/>
<line x1="681" y1="612" x2="821" y2="668"/><line x1="582" y1="632" x2="750" y2="740"/><line x1="553" y1="704" x2="656" y2="819"/>
<line x1="468" y1="752" x2="593" y2="846"/><line x1="1113" y1="708" x2="1116" y2="829"/><line x1="1234" y1="755" x2="1166" y2="895"/>
<line x1="1280" y1="827" x2="1237" y2="940"/><line x1="741" y1="837" x2="813" y2="951"/><line x1="502" y1="999" x2="700" y2="985"/>
<line x1="1159" y1="1096" x2="1016" y2="1102"/><line x1="686" y1="1078" x2="928" y2="1190"/><line x1="684" y1="1146" x2="862" y2="1198"/>
<line x1="682" y1="1211" x2="853" y2="1264"/><line x1="1127" y1="1305" x2="951" y2="1262"/><line x1="794" y1="1288" x2="919" y2="1352"/>
<line x1="1131" y1="1373" x2="1014" y2="1322"/><line x1="1307" y1="1404" x2="1162" y2="1254"/><line x1="1387" y1="1255" x2="1235" y2="1243"/>
<line x1="1387" y1="1255" x2="1243" y2="1277"/><line x1="1172" y1="1435" x2="996" y2="1424"/><line x1="765" y1="1473" x2="914" y2="1389"/>
<line x1="1249" y1="1474" x2="1101" y2="1483"/><line x1="721" y1="1579" x2="930" y2="1589"/><line x1="735" y1="1645" x2="952" y2="1621"/>
<line x1="759" y1="1719" x2="954" y2="1654"/><line x1="1460" y1="1649" x2="1368" y2="1750"/><line x1="1208" y1="1975" x2="1052" y2="1912"/>
<line x1="1426" y1="682" x2="1350" y2="802"/><line x1="1459" y1="761" x2="1354" y2="847"/><line x1="1504" y1="810" x2="1355" y2="875"/>
<line x1="1529" y1="891" x2="1398" y2="938"/><line x1="1523" y1="1008" x2="1350" y2="1040"/><line x1="1453" y1="1159" x2="1238" y2="1046"/>
<line x1="1502" y1="1225" x2="1352" y2="1199"/><line x1="247" y1="960" x2="319" y2="1062"/><line x1="192" y1="1007" x2="291" y2="1088"/>
<line x1="280" y1="1218" x2="404" y2="1186"/><line x1="189" y1="1293" x2="267" y2="1403"/><line x1="369" y1="1291" x2="547" y2="1319"/>
<line x1="442" y1="1459" x2="324" y2="1488"/><line x1="182" y1="1730" x2="273" y2="1622"/><line x1="379" y1="1842" x2="496" y2="1786"/>
<line x1="397" y1="1959" x2="513" y2="1818"/><line x1="1420" y1="1998" x2="1332" y2="2094"/>
</g>

<!-- LABELS -->
<g class="B">
<g transform="translate(697 43)"><circle r="27"/><text y="14">49</text></g>
<g transform="translate(837 41)"><circle r="27"/><text y="14">41</text></g>
<g transform="translate(1049 53)"><circle r="27"/><text y="14">54</text></g>
<g transform="translate(1143 102)"><circle r="27"/><text y="14">1</text></g>
<g transform="translate(1205 130)"><circle r="27"/><text y="14">54</text></g>
<g transform="translate(1276 169)"><circle r="27"/><text y="14">43</text></g>
<g transform="translate(1343 217)"><circle r="27"/><text y="14">55</text></g>
<g transform="translate(1397 276)"><circle r="27"/><text y="14">43</text></g>
<g transform="translate(682 193)"><circle r="27"/><text y="14">22</text></g>
<g transform="translate(776 181)"><circle r="27"/><text y="14">39</text></g>
<g transform="translate(714 267)"><circle r="27"/><text y="14">42</text></g>
<g transform="translate(643 309)"><circle r="27"/><text y="14">7</text></g>
<g transform="translate(537 329)"><circle r="27"/><text y="14">46</text></g>
<g transform="translate(1017 319)"><circle r="27"/><text y="14">21</text></g>
<g transform="translate(1040 378)"><circle r="27"/><text y="14">9</text></g>
<g transform="translate(1038 443)"><circle r="27"/><text y="14">2</text></g>
<g transform="translate(1197 441)"><circle r="27"/><text y="14">14</text></g>
<g transform="translate(656 468)"><circle r="27"/><text y="14">58</text></g>
<g transform="translate(1097 496)"><circle r="27"/><text y="14">48</text></g>
<g transform="translate(581 546)"><circle r="27"/><text y="14">33</text></g>
<g transform="translate(1142 550)"><circle r="27"/><text y="14">24</text></g>
<g transform="translate(681 612)"><circle r="27"/><text y="14">27</text></g>
<g transform="translate(582 632)"><circle r="27"/><text y="14">40</text></g>
<g transform="translate(553 704)"><circle r="27"/><text y="14">57</text></g>
<g transform="translate(468 752)"><circle r="27"/><text y="14">30</text></g>
<g transform="translate(1113 708)"><circle r="27"/><text y="14">38</text></g>
<g transform="translate(1234 755)"><circle r="27"/><text y="14">11</text></g>
<g transform="translate(1280 827)"><circle r="27"/><text y="14">8</text></g>
<g transform="translate(741 837)"><circle r="27"/><text y="14">48</text></g>
<g transform="translate(502 999)"><circle r="27"/><text y="14">56</text></g>
<g transform="translate(1159 1096)"><circle r="27"/><text y="14">53</text></g>
<g transform="translate(686 1078)"><circle r="27"/><text y="14">34</text></g>
<g transform="translate(684 1146)"><circle r="27"/><text y="14">6</text></g>
<g transform="translate(682 1211)"><circle r="27"/><text y="14">37</text></g>
<g transform="translate(794 1288)"><circle r="27"/><text y="14">51</text></g>
<g transform="translate(1127 1305)"><circle r="27"/><text y="14">5</text></g>
<g transform="translate(1131 1373)"><circle r="27"/><text y="14">18</text></g>
<g transform="translate(1307 1404)"><circle r="27"/><text y="14">29</text></g>
<g transform="translate(1387 1255)"><circle r="27"/><text y="14">27</text></g>
<g transform="translate(1172 1435)"><circle r="27"/><text y="14">26</text></g>
<g transform="translate(765 1473)"><circle r="27"/><text y="14">35</text></g>
<g transform="translate(1249 1474)"><circle r="27"/><text y="14">19</text></g>
<g transform="translate(721 1579)"><circle r="27"/><text y="14">32</text></g>
<g transform="translate(735 1645)"><circle r="27"/><text y="14">12</text></g>
<g transform="translate(759 1719)"><circle r="27"/><text y="14">44</text></g>
<g transform="translate(1460 1649)"><circle r="27"/><text y="14">20</text></g>
<g transform="translate(1208 1975)"><circle r="27"/><text y="14">50</text></g>
<g transform="translate(1426 682)"><circle r="27"/><text y="14">52</text></g>
<g transform="translate(1459 761)"><circle r="27"/><text y="14">10</text></g>
<g transform="translate(1504 810)"><circle r="27"/><text y="14">47</text></g>
<g transform="translate(1529 891)"><circle r="27"/><text y="14">16</text></g>
<g transform="translate(1523 1008)"><circle r="27"/><text y="14">36</text></g>
<g transform="translate(1453 1159)"><circle r="27"/><text y="14">58</text></g>
<g transform="translate(1502 1225)"><circle r="27"/><text y="14">48</text></g>
<g transform="translate(247 960)"><circle r="27"/><text y="14">17</text></g>
<g transform="translate(192 1007)"><circle r="27"/><text y="14">31</text></g>
<g transform="translate(280 1218)"><circle r="27"/><text y="14">45</text></g>
<g transform="translate(189 1293)"><circle r="27"/><text y="14">23</text></g>
<g transform="translate(369 1291)"><circle r="27"/><text y="14">3</text></g>
<g transform="translate(442 1459)"><circle r="27"/><text y="14">25</text></g>
<g transform="translate(182 1730)"><circle r="27"/><text y="14">15</text></g>
<g transform="translate(379 1842)"><circle r="27"/><text y="14">4</text></g>
<g transform="translate(397 1959)"><circle r="27"/><text y="14">48</text></g>
</g>

<!-- NOTE / PAD / callout -->
<g class="N">
<text x="1460" y="1617" text-anchor="middle" textLength="82" lengthAdjust="spacingAndGlyphs">NOTE</text>
<text x="1420" y="1991" text-anchor="middle" style="font-size:34px" textLength="76" lengthAdjust="spacingAndGlyphs">PAD</text>
<polygon points="23,2049 606,2049 961,2275 23,2275" fill="none" stroke="#000" stroke-width="4.5"/>
<text x="30" y="2082" textLength="549" lengthAdjust="spacingAndGlyphs">NOTE: Machines manufactured before</text>
<text x="30" y="2118" textLength="605" lengthAdjust="spacingAndGlyphs">04/2010 need to order 272-9562 Flex plate</text>
<text x="30" y="2153" textLength="603" lengthAdjust="spacingAndGlyphs">kit to update the machine to the new style.</text>
<text x="30" y="2189" textLength="664" lengthAdjust="spacingAndGlyphs">Once machine is updated you can just replace</text>
<text x="30" y="2225" textLength="793" lengthAdjust="spacingAndGlyphs" xml:space="preserve">272-7369 Flex plate assembly.  Machines manufactured</text>
<text x="30" y="2261" textLength="837" lengthAdjust="spacingAndGlyphs">after 04/2010 can just order 272-7369 Flex plate assembly.</text>
</g>
</svg>
</body></html>
